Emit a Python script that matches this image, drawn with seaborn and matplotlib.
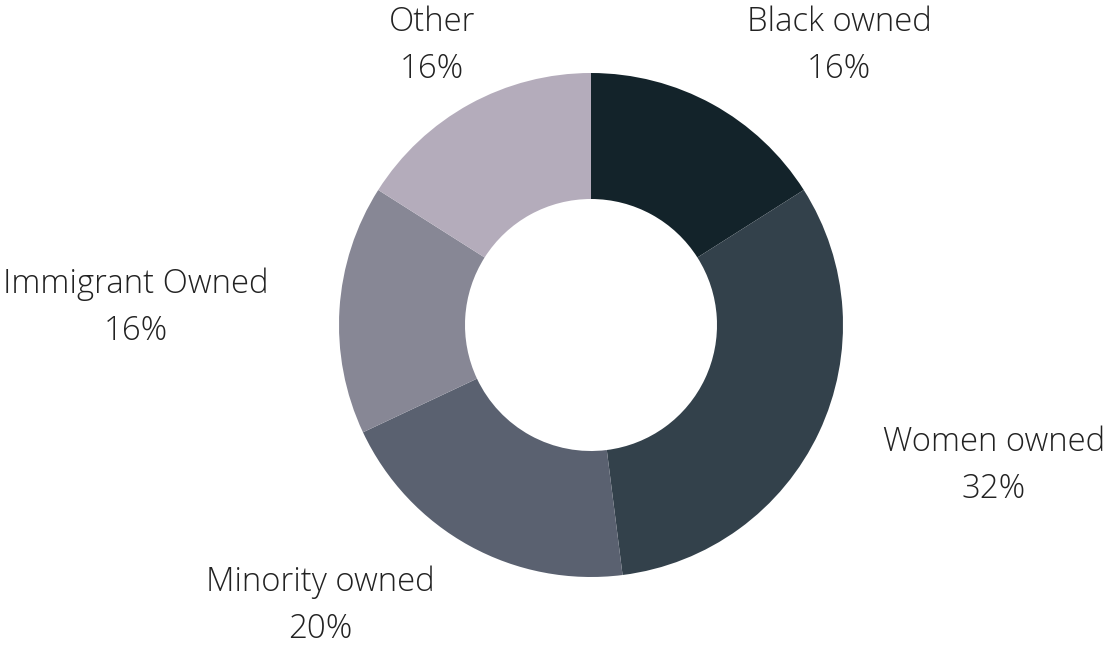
import matplotlib
matplotlib.use('Agg')
import matplotlib.pyplot as plt
import seaborn as sns

# 데이터
categories = ['Black owned', 'Women owned', 'Minority owned', 'Immigrant Owned', 'Other']
shares = [16, 32, 20, 16, 16]
pct_labels = ['16%', '32%', '20%', '16%', '16%']
colors = ['#13232A', '#33414B', '#5A6170', '#878795', '#B4ACBB']

# 레이아웃 (픽셀 좌표, y는 위에서부터)
W, H = 1107, 645
CENTER = (591, 325)
RADIUS = 252
label_pos = [(839, 46), (994, 466), (320, 606), (136, 308), (432, 46)]

sns.set_theme(style='white')
plt.rcParams['font.family'] = ['Open Sans', 'DejaVu Sans']

fig = plt.figure(figsize=(W / 100, H / 100), dpi=100)
ax = fig.add_axes([0, 0, 1, 1])

ax.pie(shares, colors=sns.color_palette(colors), startangle=90, counterclock=False,
       center=(CENTER[0], H - CENTER[1]), radius=RADIUS,
       wedgeprops=dict(width=RADIUS * 0.5, linewidth=0))

for cat, pct, (x, y) in zip(categories, pct_labels, label_pos):
    ax.text(x, H - y, f'{cat}\n{pct}', ha='center', va='center', fontsize=23.7,
            fontweight='light', color='#222222', linespacing=1.52)

ax.set_xlim(0, W)
ax.set_ylim(0, H)
ax.set_aspect('equal')
ax.axis('off')

fig.savefig('out.png', dpi=100)
